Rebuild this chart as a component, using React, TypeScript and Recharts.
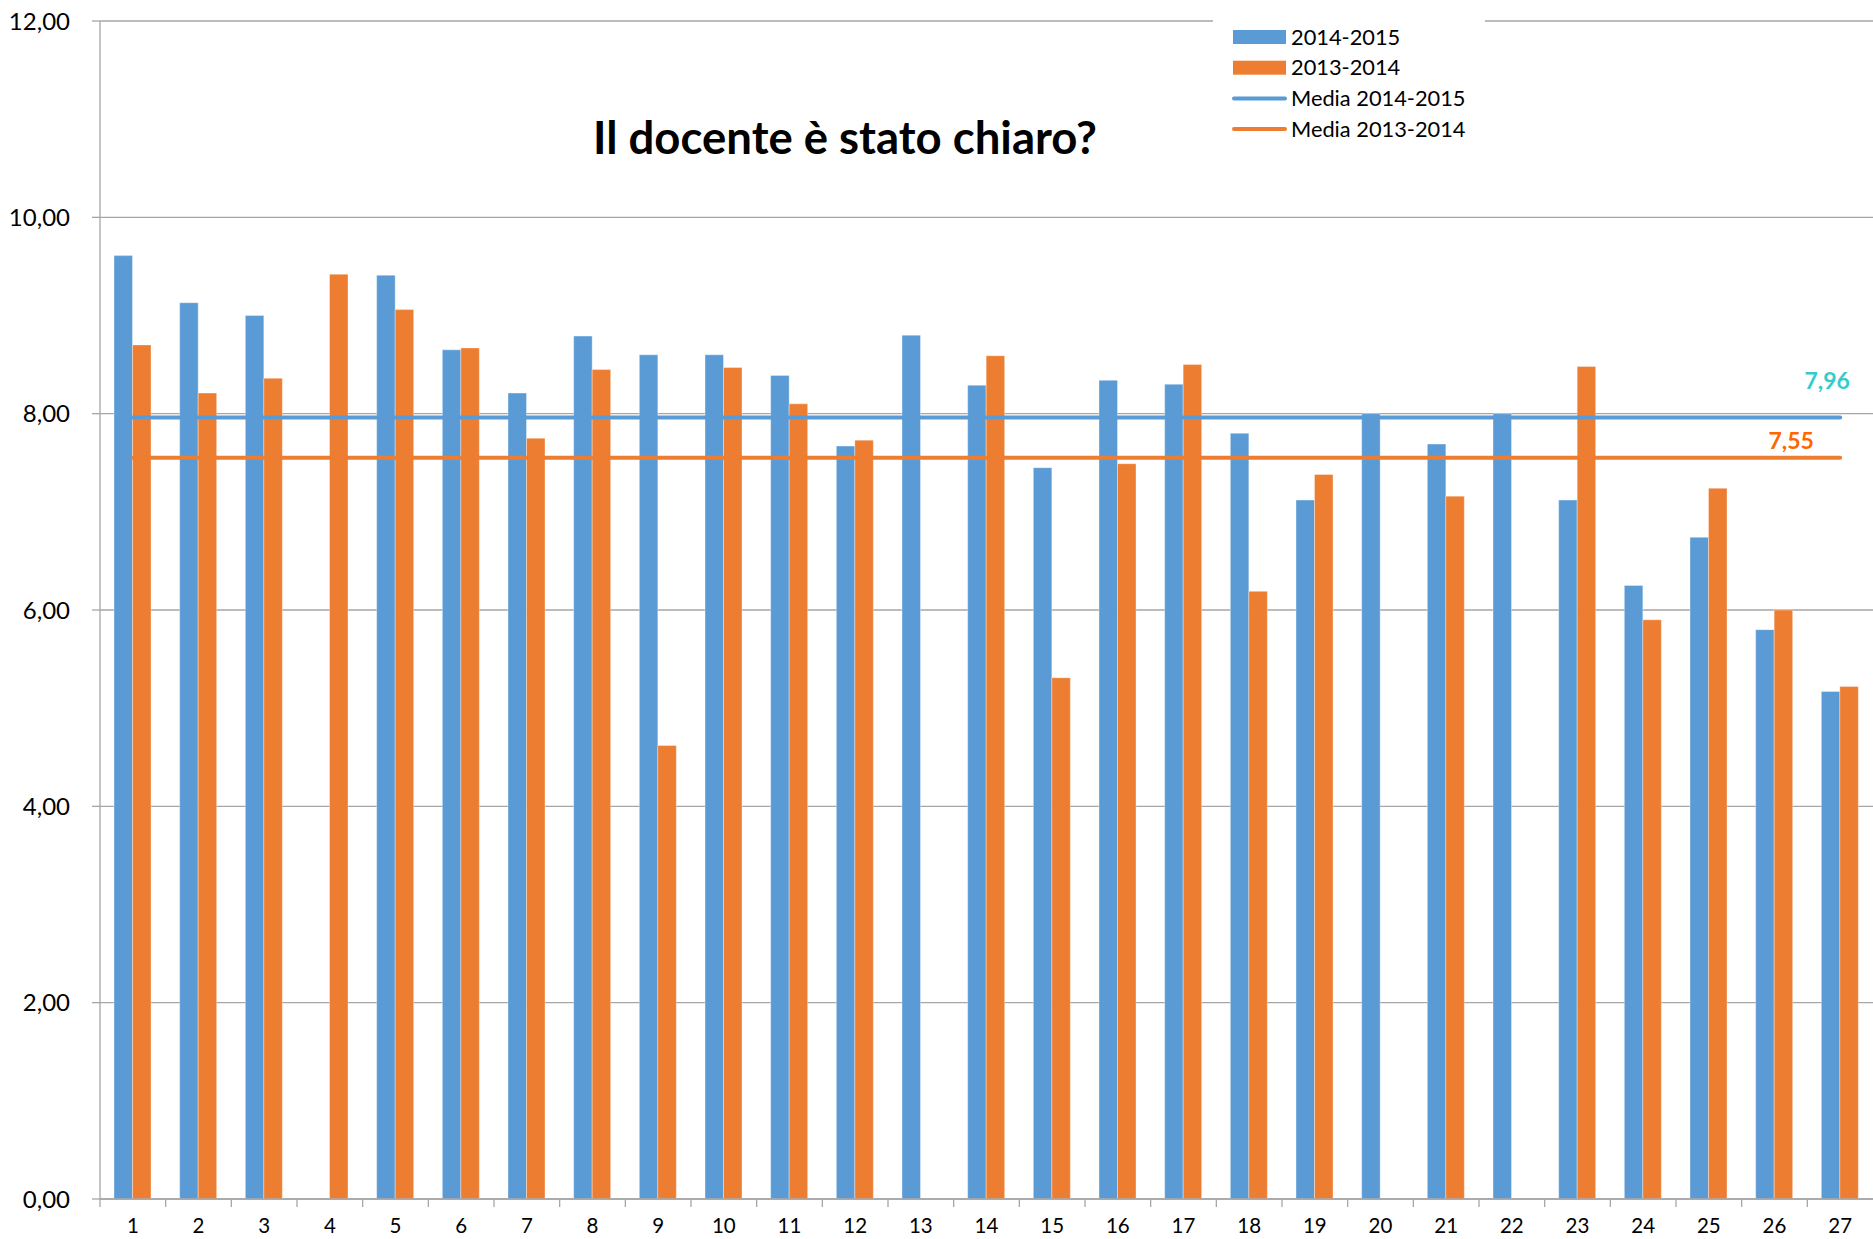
import React from 'react';
import { ComposedChart, Bar, Line, XAxis, YAxis, CartesianGrid, Legend, LabelList } from 'recharts';

const categories = ['1','2','3','4','5','6','7','8','9','10','11','12','13','14','15','16','17','18','19','20','21','22','23','24','25','26','27'];
const values2015: (number | null)[] = [9.61, 9.13, 9.0, null, 9.41, 8.65, 8.21, 8.79, 8.6, 8.6, 8.39, 7.67, 8.8, 8.29, 7.45, 8.34, 8.3, 7.8, 7.12, 8.0, 7.69, 8.0, 7.12, 6.25, 6.74, 5.8, 5.17];
const values2014: (number | null)[] = [8.7, 8.21, 8.36, 9.42, 9.06, 8.67, 7.75, 8.45, 4.62, 8.47, 8.1, 7.73, null, 8.59, 5.31, 7.49, 8.5, 6.19, 7.38, null, 7.16, null, 8.48, 5.9, 7.24, 6.0, 5.22];
const mean2015 = 7.96;
const mean2014 = 7.55;
const yTicks = [0, 2, 4, 6, 8, 10, 12];
const seriesNames = ['2014-2015', '2013-2014', 'Media 2014-2015', 'Media 2013-2014'];
const title = 'Il docente è stato chiaro?';

const data = categories.map((c, i) => ({
  cat: c,
  v2015: values2015[i],
  v2014: values2014[i],
  m2015: mean2015,
  m2014: mean2014,
}));

const W = 1873;
const H = 1239;
const TOP = 21;
const XAXIS_H = 40;
const YAXIS_W = 100;
const AXIS_Y = H - XAXIS_H;
const PLOT_W = W - YAXIS_W;
const BLUE = '#5B9BD5';
const ORANGE = '#ED7D31';
const GRAY = '#A6A6A6';
const FONT = 'Lato, "DejaVu Sans", sans-serif';

const fmt = (v: number) => v.toFixed(2).replace('.', ',');

const XTick = (props: any) => {
  const { x, payload } = props;
  const half = payload && typeof payload.offset === 'number' && payload.offset > 0 ? payload.offset : PLOT_W / categories.length / 2;
  const bx = x - half;
  return (
    <g>
      <line x1={bx} y1={AXIS_Y} x2={bx} y2={AXIS_Y + 8} stroke={GRAY} strokeWidth={1.3} />
      <text x={x} y={AXIS_Y + 34} textAnchor="middle" fontSize={20.5} fill="#000" fontFamily={FONT}>
        {payload.value}
      </text>
    </g>
  );
};

const makeMeanLabel = (color: string, text: string, dx: number, dy: number) => (props: any) => {
  if (props.index !== categories.length - 1) return null;
  const x = props.x ?? props.viewBox?.x;
  const y = props.y ?? props.viewBox?.y;
  if (x == null || y == null) return null;
  return (
    <text x={x + dx} y={y + dy} fill={color} fontSize={23} fontWeight={700} textAnchor="middle" fontFamily={FONT}>
      {text}
    </text>
  );
};

const LegendBox = () => {
  const rows = [
    { name: seriesNames[0], color: BLUE, kind: 'rect' },
    { name: seriesNames[1], color: ORANGE, kind: 'rect' },
    { name: seriesNames[2], color: BLUE, kind: 'line' },
    { name: seriesNames[3], color: ORANGE, kind: 'line' },
  ];
  return (
    <svg width={272} height={130} style={{ display: 'block', background: '#fff' }}>
      {rows.map((r, i) => {
        const cy = 23 + i * 30.7;
        return (
          <g key={r.name}>
            {r.kind === 'rect' ? (
              <rect x={20} y={cy - 7} width={53} height={14} fill={r.color} />
            ) : (
              <line x1={21} y1={cy} x2={72} y2={cy} stroke={r.color} strokeWidth={4} strokeLinecap="round" />
            )}
            <text x={78} y={cy + 7.5} fontSize={21.8} fill="#000" fontFamily={FONT}>
              {r.name}
            </text>
          </g>
        );
      })}
    </svg>
  );
};

export default function App() {
  return (
    <div style={{ position: 'absolute', left: 0, top: 0, width: W, height: H, background: '#fff', fontFamily: FONT }}>
      <ComposedChart width={W} height={H} data={data} margin={{ top: TOP, right: 0, bottom: 0, left: 0 }} barGap={0} barSize={18.5}>
        <CartesianGrid vertical={false} stroke={GRAY} strokeWidth={1.3} />
        <XAxis
          dataKey="cat"
          height={XAXIS_H}
          axisLine={{ stroke: GRAY, strokeWidth: 1.3 }}
          tickLine={false}
          tick={<XTick />}
          interval={0}
        />
        <YAxis
          width={YAXIS_W}
          domain={[0, 12]}
          ticks={yTicks}
          tickFormatter={fmt}
          axisLine={{ stroke: GRAY, strokeWidth: 1.3 }}
          tickLine={{ stroke: GRAY, strokeWidth: 1.3 }}
          tickSize={8}
          tickMargin={22}
          tick={{ fontSize: 24, fill: '#000', fontFamily: FONT }}
          allowDataOverflow
        />
        <Legend
          layout="vertical"
          align="center"
          verticalAlign="middle"
          content={<LegendBox />}
          wrapperStyle={{ position: 'absolute', left: 1213, top: 14, width: 272, height: 130 }}
        />
        <Bar dataKey="v2015" name={seriesNames[0]} fill={BLUE} stroke="#ffffff" strokeOpacity={0.35} strokeWidth={1} isAnimationActive={false} />
        <Bar dataKey="v2014" name={seriesNames[1]} fill={ORANGE} stroke="#ffffff" strokeOpacity={0.35} strokeWidth={1} isAnimationActive={false} />
        <Line dataKey="m2015" name={seriesNames[2]} stroke={BLUE} strokeWidth={4} strokeLinecap="round" dot={false} activeDot={false} isAnimationActive={false}>
          <LabelList dataKey="m2015" content={makeMeanLabel('#33CCCC', fmt(mean2015), -13, -29)} />
        </Line>
        <Line dataKey="m2014" name={seriesNames[3]} stroke={ORANGE} strokeWidth={4} strokeLinecap="round" dot={false} activeDot={false} isAnimationActive={false}>
          <LabelList dataKey="m2014" content={makeMeanLabel('#FF6600', fmt(mean2014), -49, -9)} />
        </Line>
        <text x={845} y={154} textAnchor="middle" fontSize={45.5} fontWeight={700} fill="#000" fontFamily={FONT}>
          {title}
        </text>
      </ComposedChart>
    </div>
  );
}
